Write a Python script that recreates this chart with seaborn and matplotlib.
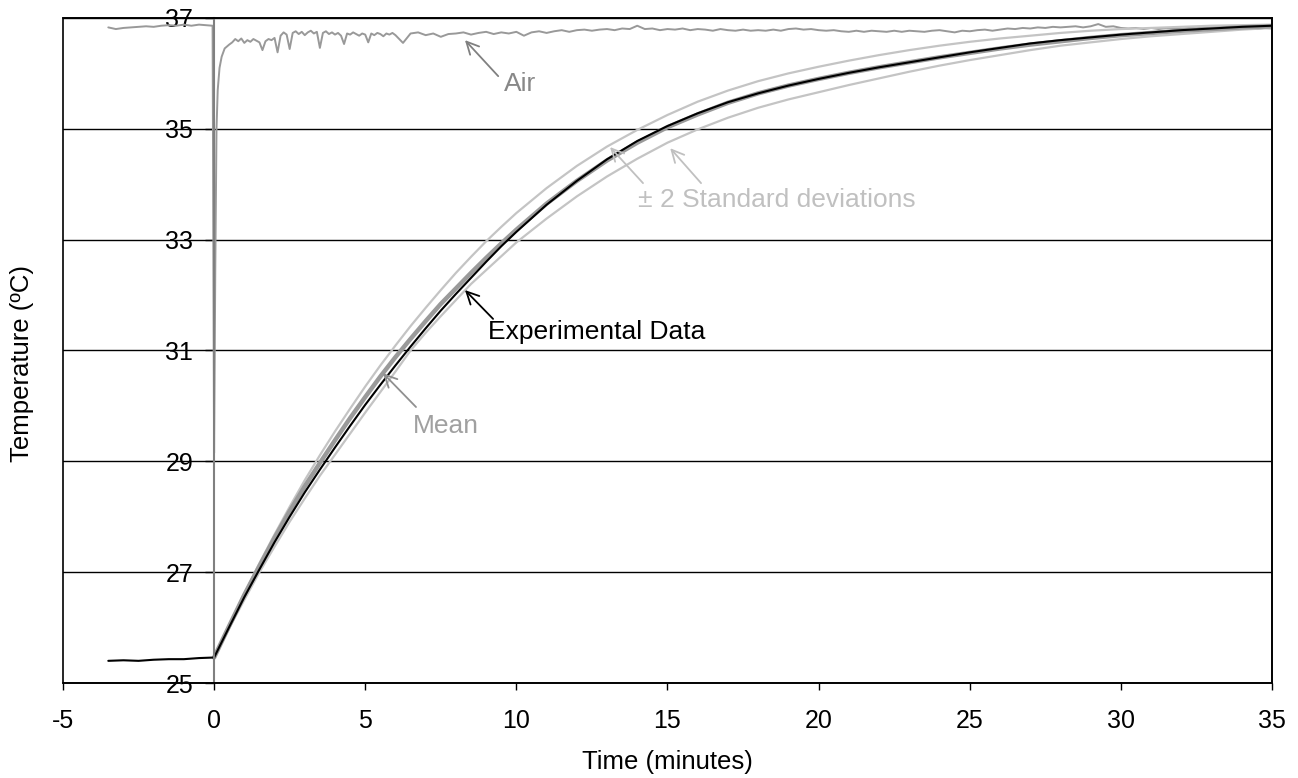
import matplotlib
matplotlib.use("Agg")
import matplotlib.pyplot as plt
from matplotlib.patches import Rectangle
import numpy as np
import pandas as pd
import seaborn as sns

# ---- data ----
# air temperature (grey, noisy)
air_t_pre = [-3.5, -3.25, -3.0, -2.75, -2.5, -2.25, -2.0, -1.75, -1.5, -1.25,
             -1.0, -0.75, -0.5, -0.25, -0.05]
air_pre = [36.83, 36.80, 36.82, 36.83, 36.84, 36.85, 36.84, 36.86, 36.87, 36.86,
           36.88, 36.86, 36.88, 36.87, 36.86]
air_t_drop = [0.0, 0.04, 0.08, 0.12, 0.18, 0.25, 0.35, 0.5]
air_drop = [29.15, 32.5, 35.0, 35.7, 36.1, 36.3, 36.45, 36.52]
air_t_early = np.arange(0.6, 6.01, 0.1)
air_early = [36.56, 36.62, 36.58, 36.63, 36.55, 36.60, 36.57, 36.62, 36.59, 36.56,
             36.42, 36.58, 36.62, 36.60, 36.64, 36.38, 36.68, 36.74, 36.70, 36.44,
             36.73, 36.76, 36.71, 36.75, 36.69, 36.74, 36.77, 36.72, 36.75, 36.46,
             36.73, 36.76, 36.71, 36.74, 36.70, 36.73, 36.68, 36.53, 36.72, 36.70,
             36.74, 36.71, 36.68, 36.72, 36.70, 36.56, 36.72, 36.69, 36.73, 36.71,
             36.67, 36.72, 36.70, 36.73, 36.69]
air_t_late = np.arange(6.25, 35.01, 0.25)
air_late = [36.55, 36.72, 36.74, 36.69, 36.72, 36.66, 36.71, 36.72,
            36.74, 36.70, 36.73, 36.75, 36.71, 36.74, 36.72, 36.75,
            36.68, 36.74, 36.76, 36.73, 36.76, 36.78, 36.75, 36.78,
            36.79, 36.77, 36.79, 36.80, 36.78, 36.81, 36.80, 36.86,
            36.80, 36.81, 36.78, 36.80, 36.79, 36.81, 36.78, 36.80,
            36.79, 36.77, 36.80, 36.78, 36.77, 36.79, 36.77, 36.78,
            36.77, 36.79, 36.77, 36.80, 36.81, 36.79, 36.80, 36.78,
            36.77, 36.78, 36.76, 36.75, 36.77, 36.75, 36.77, 36.76,
            36.75, 36.77, 36.75, 36.77, 36.76, 36.75, 36.77, 36.78,
            36.76, 36.74, 36.77, 36.76, 36.78, 36.79, 36.77, 36.79,
            36.81, 36.80, 36.82, 36.81, 36.83, 36.82, 36.84, 36.83,
            36.84, 36.85, 36.83, 36.85, 36.89, 36.84, 36.85, 36.82,
            36.81, 36.82, 36.80, 36.82, 36.80, 36.82, 36.81, 36.80,
            36.82, 36.81, 36.83, 36.81, 36.80, 36.82, 36.81, 36.83,
            36.81, 36.80, 36.82, 36.81]

# experimental data (black)
exp_t_pre = [-3.5, -3, -2.5, -2, -1.5, -1, -0.5]
exp_pre = [25.40, 25.41, 25.40, 25.42, 25.43, 25.43, 25.45]

# time grid shared by experimental curve and model curves
grid_t = [0, 0.5, 1, 1.5, 2, 2.5, 3, 3.5, 4, 4.5, 5, 5.5, 6, 6.5, 7, 7.5, 8,
          8.5, 9, 9.5, 10, 11, 12, 13, 14, 15, 16, 17, 18, 19, 20, 21, 22, 23,
          24, 25, 26, 27, 28, 29, 30, 31, 32, 33, 34, 35]
exp_T = [25.46, 26.01, 26.55, 27.05, 27.54, 28.00, 28.44, 28.85, 29.25, 29.64,
         30.02, 30.38, 30.73, 31.07, 31.40, 31.72, 32.02, 32.31, 32.60, 32.88,
         33.14, 33.63, 34.06, 34.45, 34.78, 35.05, 35.28, 35.48, 35.64, 35.78,
         35.90, 36.01, 36.11, 36.20, 36.29, 36.38, 36.46, 36.54, 36.60, 36.65,
         36.70, 36.74, 36.78, 36.81, 36.84, 36.86]
mean_T = [25.46, 26.03, 26.59, 27.11, 27.62, 28.10, 28.55, 28.97, 29.38, 29.78,
          30.16, 30.53, 30.88, 31.21, 31.53, 31.84, 32.12, 32.40, 32.67, 32.93,
          33.18, 33.65, 34.06, 34.43, 34.75, 35.03, 35.26, 35.47, 35.64, 35.78,
          35.90, 36.01, 36.11, 36.20, 36.29, 36.37, 36.45, 36.52, 36.58, 36.64,
          36.69, 36.73, 36.77, 36.80, 36.83, 36.85]
upper_T = [25.46, 26.05, 26.62, 27.16, 27.68, 28.18, 28.66, 29.11, 29.54, 29.95,
           30.35, 30.73, 31.09, 31.44, 31.77, 32.09, 32.40, 32.69, 32.97, 33.23,
           33.48, 33.93, 34.33, 34.68, 34.98, 35.25, 35.49, 35.69, 35.86, 36.00,
           36.12, 36.23, 36.33, 36.42, 36.50, 36.57, 36.63, 36.68, 36.73, 36.77,
           36.80, 36.82, 36.84, 36.86, 36.87, 36.88]
lower_T = [25.46, 25.99, 26.50, 27.00, 27.46, 27.91, 28.33, 28.74, 29.12, 29.50,
           29.88, 30.25, 30.62, 31.00, 31.32, 31.62, 31.91, 32.20, 32.45, 32.70,
           32.95, 33.38, 33.78, 34.14, 34.46, 34.75, 34.99, 35.20, 35.38, 35.53,
           35.66, 35.79, 35.91, 36.03, 36.14, 36.24, 36.33, 36.42, 36.50, 36.56,
           36.62, 36.67, 36.71, 36.75, 36.79, 36.82]

air = pd.DataFrame({"t": np.concatenate([air_t_pre, air_t_drop, air_t_early, air_t_late]),
                    "T": air_pre + air_drop + air_early + air_late})
exp = pd.DataFrame({"t": exp_t_pre + grid_t, "T": exp_pre + exp_T})
model = pd.DataFrame({"t": grid_t, "mean": mean_T, "upper": upper_T, "lower": lower_T})

# ---- style ----
sns.set_theme(style="white")
plt.rcParams["font.family"] = ["Liberation Sans", "DejaVu Sans"]
plt.rcParams["axes.unicode_minus"] = False

fig = plt.figure(figsize=(12.98, 7.78), dpi=100)
ax = fig.add_axes([0.0485, 0.1221, 0.9315, 0.8548])

ax.set_xlim(-5, 35)
ax.set_ylim(25, 37)
ax.set_xticks(range(-5, 36, 5))
ax.set_yticks(range(25, 38, 2))
ax.set_axisbelow(True)
ax.grid(axis="y", color="black", lw=1.0)
ax.grid(axis="x", visible=False)

kw = dict(estimator=None, sort=False, legend=False, ax=ax)
sns.lineplot(data=air, x="t", y="T", color="#999999", lw=1.4, **kw)
sns.lineplot(data=model, x="t", y="upper", color="#c4c4c4", lw=1.6, **kw)
sns.lineplot(data=model, x="t", y="lower", color="#c4c4c4", lw=1.6, **kw)
sns.lineplot(data=model, x="t", y="mean", color="#9a9a9a", lw=3.2, **kw)
sns.lineplot(data=exp, x="t", y="T", color="black", lw=1.5, **kw)

# axes: y axis crosses at x = 0, plot area framed
for s in ["top", "right", "bottom"]:
    ax.spines[s].set_color("black")
    ax.spines[s].set_linewidth(1.2)
ax.spines["left"].set_position(("data", 0))
ax.spines["left"].set_color("#808080")
ax.spines["left"].set_linewidth(1.5)
ax.add_patch(Rectangle((0, 0), 1, 1, transform=ax.transAxes, fill=False,
                       ec="black", lw=1.2, zorder=5, clip_on=False))

ax.tick_params(axis="y", direction="out", length=6.5, width=1.0, pad=8.5,
               color="black", labelcolor="black", labelsize=18, left=True)
ax.tick_params(axis="x", direction="out", length=5, width=1.0, pad=14,
               color="black", labelcolor="black", labelsize=18, bottom=True)

ax.set_xlabel("Time (minutes)", fontsize=18.5, color="black")
ax.set_ylabel("Temperature (ºC)", fontsize=18.5, color="black")
ax.xaxis.label.set_va("center")
ax.yaxis.label.set_va("center")
ax.xaxis.set_label_coords(0.5, -0.119)
ax.yaxis.set_label_coords(-0.034, 0.48)

# ---- annotations ----
arrow = lambda c: dict(arrowstyle="->", color=c, lw=1.3, shrinkA=0, shrinkB=0,
                       mutation_scale=22)
ax.annotate("", xy=(8.30, 36.60), xytext=(9.40, 35.95), arrowprops=arrow("#808080"))
ax.text(10.12, 35.81, "Air", fontsize=19, color="#888888", ha="center", va="center")

ax.annotate("", xy=(13.10, 34.67), xytext=(14.19, 34.02), arrowprops=arrow("#c0c0c0"))
ax.annotate("", xy=(15.09, 34.65), xytext=(16.11, 34.02), arrowprops=arrow("#c0c0c0"))
ax.text(18.63, 33.72, "± 2 Standard deviations", fontsize=19, color="#c0c0c0",
        ha="center", va="center")

ax.annotate("", xy=(8.30, 32.09), xytext=(9.23, 31.57), arrowprops=arrow("black"))
ax.text(12.67, 31.33, "Experimental Data", fontsize=19, color="black",
        ha="center", va="center")

ax.annotate("", xy=(5.59, 30.59), xytext=(6.68, 29.98), arrowprops=arrow("#909090"))
ax.text(7.68, 29.64, "Mean", fontsize=19, color="#a0a0a0", ha="center", va="center")

fig.savefig("out.png", dpi=100)
